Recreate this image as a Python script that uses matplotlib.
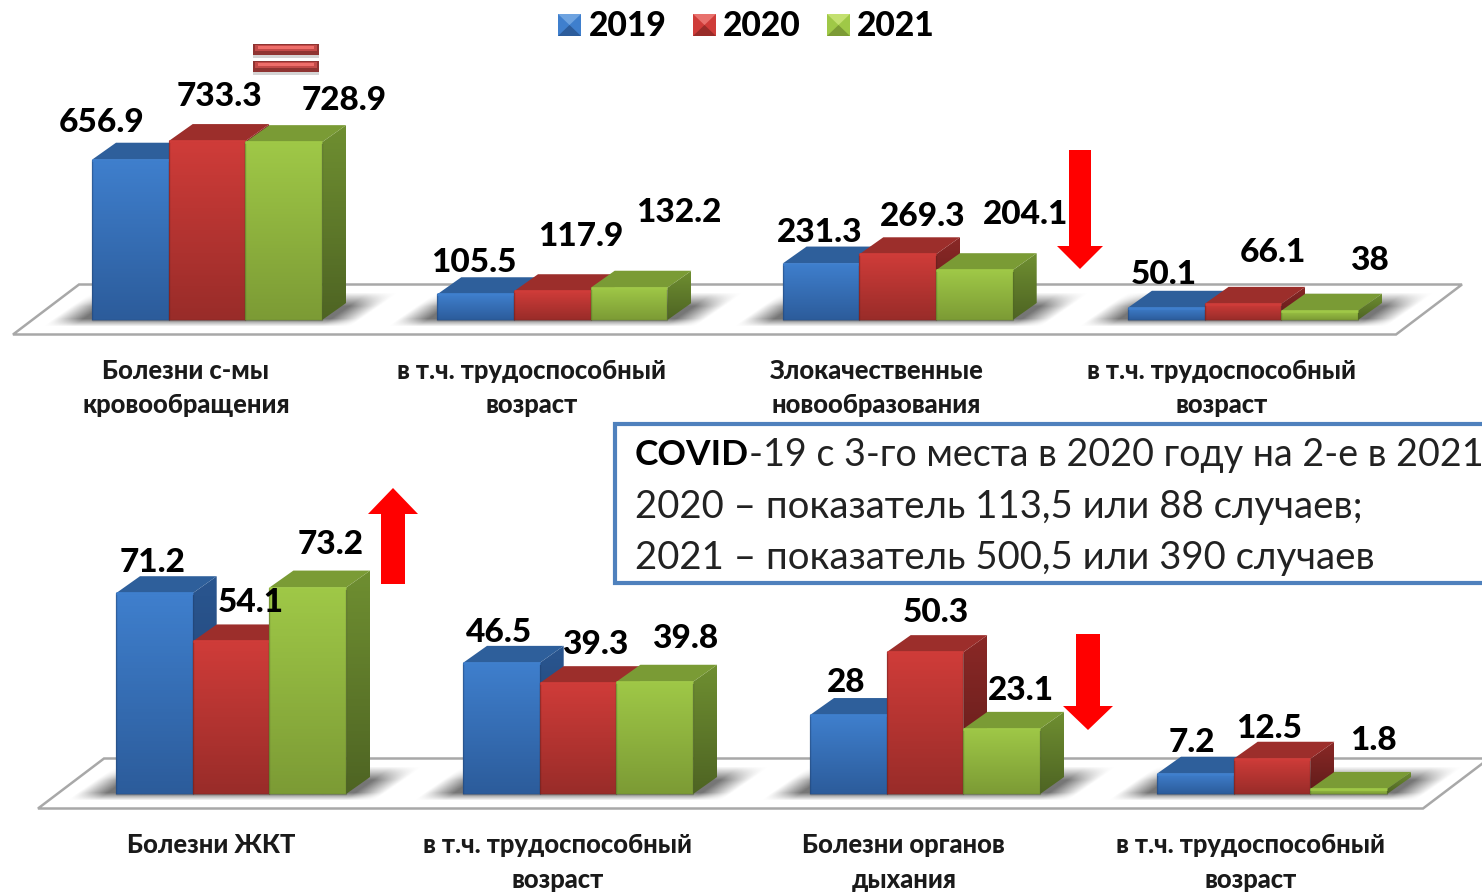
import matplotlib
matplotlib.use("Agg")
import matplotlib.pyplot as plt
import numpy as np
from matplotlib.patches import Polygon, Rectangle

plt.rcParams['font.family'] = ['Lato', 'Open Sans', 'DejaVu Sans']

years = ["2019", "2020", "2021"]

top_labels = ["Болезни с-мы\nкровообращения", "в т.ч. трудоспособный\nвозраст",
              "Злокачественные\nновообразования", "в т.ч. трудоспособный\nвозраст"]
top_2019 = [656.9, 105.5, 231.3, 50.1]
top_2020 = [733.3, 117.9, 269.3, 66.1]
top_2021 = [728.9, 132.2, 204.1, 38]

bottom_labels = ["Болезни ЖКТ", "в т.ч. трудоспособный\nвозраст",
                 "Болезни органов\nдыхания", "в т.ч. трудоспособный\nвозраст"]
bottom_2019 = [71.2, 46.5, 28, 7.2]
bottom_2020 = [54.1, 39.3, 50.3, 12.5]
bottom_2021 = [73.2, 39.8, 23.1, 1.8]

# where the value labels sit, pixels (x, y centre)
top_label_pos = [(102, 121), (474, 261), (820, 231), (1164, 273),
                 (219, 95), (581, 234), (923, 215), (1273, 251),
                 (344, 98), (679, 211), (1026, 212), (1369, 258)]
bottom_label_pos = [(153, 560), (499, 630), (846, 681), (1192, 740),
                    (251, 601), (595, 642), (936, 611), (1269, 726),
                    (331, 542), (685, 636), (1021, 688), (1373, 738)]

W, H = 1482, 892
BAR_PX = 76.7
DX_PX, DY_PX = 24, 17

front_cols = [("#3f7fcd", "#2c5c9b"), ("#cf3c39", "#992c29"), ("#9fc847", "#7c9b35")]
top_cols = ["#2e5f9b", "#9c2e2b", "#7a9b35"]
side_cols = [("#2a5690", "#1f3f6d"), ("#8a2826", "#5f1c1a"), ("#6f8f31", "#4e6423")]
legend_light = ["#6ea3e0", "#e8716d", "#c3e070"]


def grad(c1, c2):
    a = np.array(matplotlib.colors.to_rgb(c1))
    b = np.array(matplotlib.colors.to_rgb(c2))
    t = np.linspace(0, 1, 64)[:, None]
    return (a + (b - a) * t)[:, None, :]


def face(ax, pts, c1, c2):
    poly = Polygon(pts, closed=True, fc="none", ec="none", zorder=1)
    ax.add_patch(poly)
    xs = [p[0] for p in pts]
    ys = [p[1] for p in pts]
    im = ax.imshow(grad(c1, c2), extent=(min(xs), max(xs), min(ys), max(ys)),
                   origin="upper", aspect="auto", zorder=1)
    im.set_clip_path(poly)


def bars(ax, series, spacing, scale):
    w = BAR_PX / spacing
    dx = DX_PX / spacing
    dy = DY_PX / scale
    for g in range(4):
        for s, vals in enumerate(series):
            x0 = g + s * w
            x1 = x0 + w
            v = vals[g]
            face(ax, [(x1, 0), (x1 + dx, dy), (x1 + dx, v + dy), (x1, v)], *side_cols[s])
            ax.add_patch(Polygon([(x0, v), (x0 + dx, v + dy), (x1 + dx, v + dy), (x1, v)],
                                 fc=top_cols[s], ec="none", zorder=1))
            face(ax, [(x0, 0), (x1, 0), (x1, v), (x0, v)], *front_cols[s])
            # thin bevel round the front face
            ax.add_patch(Polygon([(x0, 0), (x1, 0), (x1, v), (x0, v)], fc="none",
                                 ec=side_cols[s][1], lw=1, alpha=0.45, zorder=1))
            ax.plot([x0, x1], [v, v], color=front_cols[s][0], lw=2, zorder=1,
                    solid_capstyle="butt")


def chart_axes(base_px, top_px, bottom_px, x0_px, spacing, scale):
    ax = fig.add_axes([0, 1 - bottom_px / H, 1, (bottom_px - top_px) / H], zorder=1)
    ax.set_xlim(-x0_px / spacing, (W - x0_px) / spacing)
    ax.set_ylim((base_px - bottom_px) / scale, (base_px - top_px) / scale)
    ax.axis("off")
    ax.patch.set_alpha(0)
    return ax


def floor(ax, left, right, y_low):
    ax.add_patch(Polygon([(left, y_low), (right, y_low), (right + 66, y_low - 50), (left + 66, y_low - 50)],
                         closed=True, fc="white", ec="#a8a8a8", lw=1.8))


def shadow(ax, x0, base):
    x = np.arange(x0 - 50, x0 + 3 * BAR_PX + 85)
    y = np.arange(base - 30, base + 9)
    X, Y = np.meshgrid(x, y)
    u = X - (base - Y) * 1.4
    a = np.clip((u - x0 + 40) / 30, 0, 1) * np.clip((x0 + 3 * BAR_PX + 38 - u) / 30, 0, 1)
    a = a * np.clip((base + 7 - Y) / 8, 0, 1) * np.clip((Y - base + 28) / 14, 0, 1)
    img = np.zeros(a.shape + (4,))
    img[..., :3] = 0.4
    img[..., 3] = a * 0.9
    ax.imshow(img, extent=(x[0], x[-1], y[-1], y[0]), origin="upper", aspect="auto", zorder=2)


def arrow(ax, cx, y_tail, y_neck, y_tip, shaft, head):
    ax.add_patch(Polygon([(cx - shaft, y_tail), (cx + shaft, y_tail), (cx + shaft, y_neck),
                          (cx + head, y_neck), (cx, y_tip), (cx - head, y_neck), (cx - shaft, y_neck)],
                         closed=True, fc="#ff0000", ec="none"))


fig = plt.figure(figsize=(W / 100, H / 100), dpi=100)

back = fig.add_axes([0, 0, 1, 1], zorder=0)
back.axis("off")

front = fig.add_axes([0, 0, 1, 1], zorder=2)
front.set_xlim(0, W)
front.set_ylim(H, 0)
front.axis("off")
front.patch.set_alpha(0)

# floors and shadows under the bars
floor(back, 13, 1396, 334.5)
floor(back, 38, 1423, 808.5)
for i in range(4):
    shadow(back, 92 + 345.3 * i, 320)
    shadow(back, 116 + 347 * i, 794)
back.set_xlim(0, W)
back.set_ylim(H, 0)

# charts
ax_top = chart_axes(320, 0, 420, 92, 345.3, 0.244)
xl, yl = ax_top.get_xlim(), ax_top.get_ylim()
bars(ax_top, [top_2019, top_2020, top_2021], 345.3, 0.244)
ax_top.set_xlim(xl)
ax_top.set_ylim(yl)

ax_bot = chart_axes(794, 430, 892, 116, 347, 2.82)
xl, yl = ax_bot.get_xlim(), ax_bot.get_ylim()
bars(ax_bot, [bottom_2019, bottom_2020, bottom_2021], 347, 2.82)
ax_bot.set_xlim(xl)
ax_bot.set_ylim(yl)

# value labels
for vals, (px, py) in zip(top_2019 + top_2020 + top_2021, top_label_pos):
    front.text(px, py + 2, f"{vals:g}", ha="center", va="center", fontsize=24, fontweight="black", color="black")
for vals, (px, py) in zip(bottom_2019 + bottom_2020 + bottom_2021, bottom_label_pos):
    front.text(px, py + 2, f"{vals:g}", ha="center", va="center", fontsize=24, fontweight="black", color="black")

# category labels
for i, lab in enumerate(top_labels):
    cx = 186 + 345.3 * i
    for j, line in enumerate(lab.split("\n")):
        front.text(cx, 371 + 34 * j, line, ha="center", va="center", fontsize=18.4, fontweight="black", color="#1a1a1a")
for i, lab in enumerate(bottom_labels):
    cx = 211 + 346.4 * i
    for j, line in enumerate(lab.split("\n")):
        front.text(cx, 845 + 35 * j, line, ha="center", va="center", fontsize=18.4, fontweight="black", color="#1a1a1a")

# legend
for x_sq, x_txt, yr, (c1, c2), light in zip([558, 693, 827], [589, 723, 857], years, front_cols, legend_light):
    y0, y1 = 14, 36
    x1 = x_sq + 23
    xm, ym = x_sq + 11.5, (y0 + y1) / 2
    front.add_patch(Polygon([(x_sq, y0), (x1, y0), (x1, y1), (x_sq, y1)], fc=c1, ec="none"))
    front.add_patch(Polygon([(x_sq, y0), (x1, y0), (xm, ym)], fc=light, ec="none"))
    front.add_patch(Polygon([(x_sq, y1), (x1, y1), (xm, ym)], fc=c2, ec="none"))
    front.text(x_txt, 26, yr, ha="left", va="center", fontsize=24.2, fontweight="black", color="black")

# equals sign
for y in (44, 61):
    front.add_patch(Rectangle((253, y + 11), 66, 3, fc="#b8b8b8", ec="none", alpha=0.6))
    front.add_patch(Rectangle((253, y), 66, 11, fc="#8f3432", ec="none"))
    front.add_patch(Rectangle((255, y + 1), 62, 6, fc="#c24a48", ec="none"))
    front.add_patch(Rectangle((258, y + 2), 56, 3, fc="#ee6e6a", ec="none"))

# arrows
arrow(front, 1080, 150, 246, 269, 11, 23)
arrow(front, 393, 584, 514, 488, 12, 25)
arrow(front, 1088, 634, 706, 730, 12, 25)

# COVID box
front.add_patch(Rectangle((615, 424), 900, 159, fc="white", ec="#4f81bd", lw=3, zorder=3))
t = front.text(635, 455, "COVID", ha="left", va="center", fontsize=25.5, fontweight="bold", zorder=4, color="black")
fig.canvas.draw()
bb = t.get_window_extent()
front.text(bb.x1, 455, "-19 с 3-го места в 2020 году на 2-е в 2021", ha="left", va="center", fontsize=27.1, zorder=4, color="#222222")
front.text(635, 507, "2020 – показатель 113,5 или 88 случаев;", ha="left", va="center", fontsize=27.6, zorder=4, color="#222222")
front.text(635, 558, "2021 – показатель 500,5 или 390 случаев", ha="left", va="center", fontsize=27.6, zorder=4, color="#222222")

fig.savefig("out.png", dpi=100)
